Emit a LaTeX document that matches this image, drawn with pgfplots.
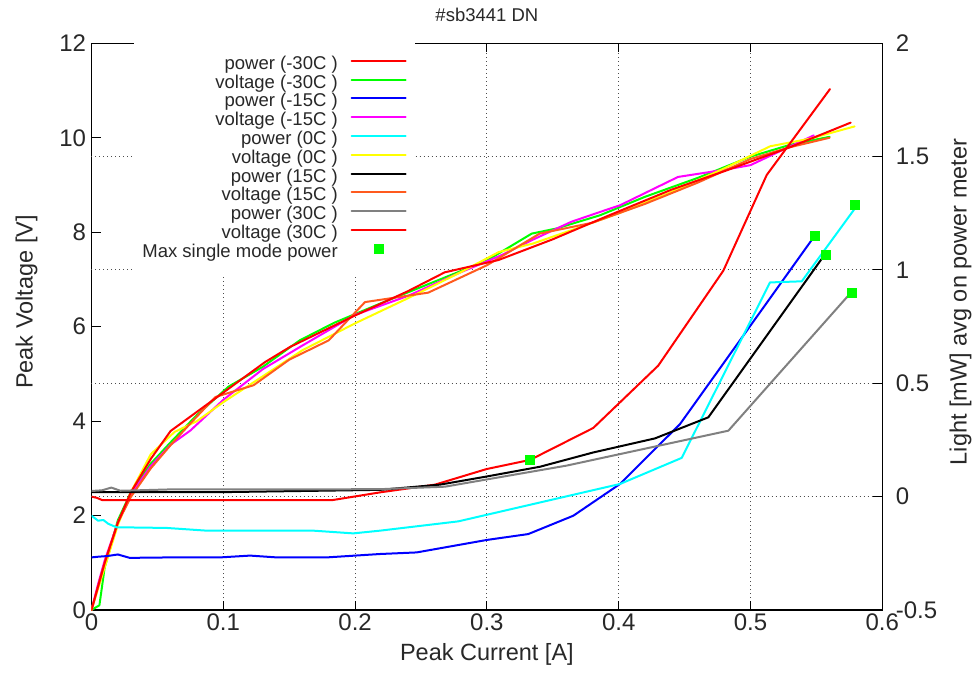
\documentclass[border=0pt]{standalone}
\usepackage{fontspec}
\setmainfont{Liberation Sans}
\usepackage{pgfplots}
\pgfplotsset{compat=1.18}
\definecolor{cred}{RGB}{255,0,0}
\definecolor{cgreen}{RGB}{0,255,0}
\definecolor{cblue}{RGB}{0,0,255}
\definecolor{cmag}{RGB}{255,0,255}
\definecolor{ccyan}{RGB}{0,255,255}
\definecolor{cyel}{RGB}{255,255,0}
\definecolor{corange}{RGB}{255,90,30}
\definecolor{cgray}{RGB}{128,128,128}
\definecolor{txt}{RGB}{40,40,40}
\newcommand\tickfont{\fontsize{24bp}{28bp}\selectfont}
\newcommand\labfont{\fontsize{23.5bp}{28bp}\selectfont}
\newcommand\smallfont{\fontsize{18.5bp}{19bp}\selectfont}
\pgfplotsset{
  common/.style={
    scale only axis, width=790.8bp, height=566.7bp,
    at={(0,0)}, anchor=south west,
    xmin=0, xmax=0.6,
    /pgf/number format/assume math mode=true,
    tick label style={font=\tickfont, text=txt},
    tick align=inside, major tick length=9bp,
    every tick/.style={black, line width=1bp},
    axis line style={line width=1.5bp},
  },
  ln/.style={line width=2bp, line join=round, line cap=round, mark=none},
  linelegend/.style={legend image code/.code={\draw[##1] (0bp,4.5bp) -- (54bp,4.5bp);}},
  smmlegend/.style={only marks, mark=square*, mark size=4.5bp, color=cgreen,
    legend image code/.code={\draw[##1] plot coordinates {(27bp,4.5bp)};}},
}
\begin{document}
\begin{tikzpicture}
\useasboundingbox (-91.5bp,-65bp) rectangle (883.5bp,610bp);
% ---------------- voltage axis (left) ----------------
\begin{axis}[common,
  ymin=0, ymax=12,
  xtick={0,0.1,0.2,0.3,0.4,0.5,0.6},
  xticklabels={0,0.1,0.2,0.3,0.4,0.5,0.6},
  xtick pos=both, xticklabel pos=lower,
  ytick={0,2,4,6,8,10,12}, ytick pos=left,
  yticklabel style={xshift=-2bp},
  xmajorgrids,
  grid style={black!70, line width=1bp, dash pattern=on 1bp off 3bp},
  extra y ticks={2.4,4.8,7.2,9.6},
  extra y tick labels={},
  extra y tick style={grid=major, major tick length=0pt},
  xlabel={Peak Current [A]},
  ylabel={Peak Voltage [V]},
  title={\#sb3441 DN},
  every axis x label/.style={at={(axis description cs:0.5,-0.0891)}, anchor=base, font=\labfont, text=txt},
  every axis y label/.style={at={(axis description cs:-0.0744,0.5435)}, rotate=90, anchor=base, font=\labfont, text=txt},
  every axis title/.style={at={(axis description cs:0.5,1.0376)}, anchor=base, font=\smallfont, text=txt},
]
% voltage (-30C)
\addplot[ln, cgreen] coordinates {
(0,0) (0.006,0.1) (0.01,0.9) (0.02,1.9) (0.03,2.5) (0.045,3.1) (0.06,3.55)
(0.08,4.13) (0.104,4.73) (0.13,5.15) (0.158,5.71) (0.184,6.08) (0.22,6.5)
(0.26,6.95) (0.3,7.4) (0.334,7.97) (0.353,8.08) (0.386,8.36) (0.42,8.75)
(0.46,9.15) (0.5,9.6) (0.53,9.85) (0.56,10.02)};
% voltage (-15C)
\addplot[ln, cmag] coordinates {
(0,0) (0.005,0.55) (0.01,1.05) (0.02,1.85) (0.03,2.45) (0.045,3.05) (0.06,3.5)
(0.075,3.8) (0.1,4.45) (0.13,5.1) (0.16,5.6) (0.2,6.25) (0.24,6.65) (0.28,7.15)
(0.31,7.5) (0.334,7.83) (0.364,8.22) (0.386,8.43) (0.401,8.57) (0.445,9.17)
(0.482,9.33) (0.5,9.42) (0.525,9.75) (0.548,10.05)};
% voltage (0C)
\addplot[ln, cyel] coordinates {
(0,0) (0.005,0.45) (0.01,0.9) (0.02,1.8) (0.03,2.5) (0.045,3.3) (0.063,3.77)
(0.08,4.0) (0.1,4.4) (0.13,4.95) (0.16,5.5) (0.2,6.07) (0.24,6.6) (0.28,7.15)
(0.309,7.58) (0.335,7.76) (0.37,8.1) (0.4,8.4) (0.44,8.85) (0.48,9.35)
(0.515,9.82) (0.545,9.98) (0.579,10.24)};
% voltage (15C)
\addplot[ln, corange] coordinates {
(0,0) (0.005,0.5) (0.01,1.0) (0.02,1.85) (0.03,2.4) (0.045,3.0) (0.06,3.49)
(0.075,3.95) (0.094,4.51) (0.123,4.76) (0.15,5.3) (0.18,5.71) (0.2075,6.52)
(0.2555,6.72) (0.3,7.3) (0.34,7.97) (0.38,8.2) (0.42,8.6) (0.46,9.05)
(0.5,9.55) (0.53,9.8) (0.56,10.0)};
% voltage (30C)
\addplot[ln, cred] coordinates {
(0,0) (0.005,0.5) (0.01,1.0) (0.02,1.85) (0.03,2.5) (0.045,3.2) (0.06,3.79)
(0.09,4.4) (0.1317,5.25) (0.1506,5.57) (0.1987,6.22) (0.24,6.75) (0.268,7.15)
(0.3087,7.41) (0.35,7.85) (0.393,8.36) (0.44,8.9) (0.482,9.31) (0.53,9.8)
(0.576,10.32)};
\end{axis}
% ---------------- power axis (right) ----------------
\begin{axis}[common,
  ymin=-0.5, ymax=2,
  axis x line=none, axis y line*=right,
  ytick={-0.5,0,0.5,1,1.5,2},
  yticklabels={-0.5,0,0.5,1,1.5,2},
  ytick pos=right, yticklabel pos=right,
  yticklabel style={anchor=west, xshift=10bp},
  ylabel={Light [mW] avg on power meter},
  every axis y label/.style={at={(axis description cs:1.1067,0.5435)}, rotate=90, anchor=base, font=\labfont, text=txt},
  legend cell align=right,
  legend plot pos=right,
  linelegend,
  legend style={at={(axis description cs:0.409,1)}, anchor=north east,
    draw=none, fill=white, inner xsep=8bp, inner ysep=12.5bp,
    column sep=13bp, row sep=0pt,
    nodes={font=\smallfont, text=txt, inner sep=0pt, text height=13.4bp, text depth=5.4bp}},
]
\addlegendimage{ln, cred}\addlegendentry{power (-30C )}
\addlegendimage{ln, cgreen}\addlegendentry{voltage (-30C )}
\addlegendimage{ln, cblue}\addlegendentry{power (-15C )}
\addlegendimage{ln, cmag}\addlegendentry{voltage (-15C )}
\addlegendimage{ln, ccyan}\addlegendentry{power (0C )}
\addlegendimage{ln, cyel}\addlegendentry{voltage (0C )}
\addlegendimage{ln, black}\addlegendentry{power (15C )}
\addlegendimage{ln, corange}\addlegendentry{voltage (15C )}
\addlegendimage{ln, cgray}\addlegendentry{power (30C )}
\addlegendimage{ln, cred}\addlegendentry{voltage (30C )}
\addlegendimage{smmlegend}\addlegendentry{Max single mode power}
% power (-30C)
\addplot[ln, cred, forget plot] coordinates {
(0,0.0) (0.004,-0.005) (0.008,-0.015) (0.05,-0.015) (0.1,-0.015) (0.15,-0.015)
(0.183,-0.015) (0.219,0.019) (0.2606,0.053) (0.2999,0.122) (0.3327,0.162)
(0.3807,0.303) (0.43,0.578) (0.4794,0.997) (0.5123,1.419) (0.5603,1.798)};
% power (-15C)
\addplot[ln, cblue, forget plot] coordinates {
(0,-0.268) (0.005,-0.265) (0.012,-0.262) (0.02,-0.255) (0.029,-0.27)
(0.06,-0.268) (0.0975,-0.268) (0.1203,-0.26) (0.1405,-0.268) (0.1785,-0.268)
(0.2189,-0.253) (0.2467,-0.246) (0.2999,-0.191) (0.3314,-0.165)
(0.3656,-0.084) (0.401,0.056) (0.4465,0.32) (0.5464,1.132)};
% power (0C)
\addplot[ln, ccyan, forget plot] coordinates {
(0,-0.084) (0.005,-0.106) (0.009,-0.103) (0.0128,-0.12) (0.019,-0.135)
(0.057,-0.138) (0.0874,-0.15) (0.1683,-0.15) (0.1986,-0.162) (0.2189,-0.15)
(0.2783,-0.109) (0.401,0.056) (0.4478,0.171) (0.5148,0.945) (0.5389,0.95)
(0.5793,1.272)};
% power (15C)
\addplot[ln, black, forget plot] coordinates {
(0,0.02) (0.1,0.02) (0.2189,0.03) (0.2644,0.053) (0.2999,0.089)
(0.3403,0.132) (0.3807,0.195) (0.4275,0.257) (0.468,0.35) (0.554,1.049)};
% power (30C)
\addplot[ln, cgray, forget plot] coordinates {
(0,0.025) (0.008,0.028) (0.015,0.04) (0.022,0.026) (0.035,0.028) (0.06,0.032)
(0.15,0.032) (0.2189,0.033) (0.2682,0.044) (0.3605,0.137) (0.4832,0.291)
(0.5742,0.887)};
% max single mode power
\addplot[only marks, mark=square*, mark size=4.5bp, color=cgreen, forget plot] coordinates {
(0.3327,0.162) (0.5484,1.15) (0.5793,1.287) (0.5568,1.067) (0.5768,0.899)};
\end{axis}
\end{tikzpicture}
\end{document}
